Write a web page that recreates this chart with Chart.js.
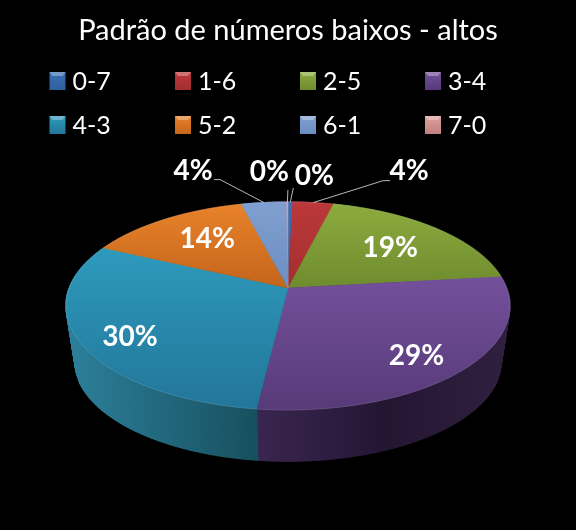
<!DOCTYPE html>
<html><head><meta charset="utf-8">
<style>html,body{margin:0;padding:0;background:#000}canvas{display:block}</style>
<script src="https://cdn.jsdelivr.net/npm/chart.js@4"></script>
</head><body><div style="width:576px;height:530px"><canvas id="c" width="576" height="530" style="width:576px;height:530px"></canvas></div>
<script>
const titleText = 'Padrão de números baixos - altos';
const categories = ['0-7','1-6','2-5','3-4','4-3','5-2','6-1','7-0'];
const shares = [0.4,3.5,19.3,28.7,30.1,14.0,3.9,0.1];
const topLight = ['#3A70B8','#BC383A','#8CAB3E','#74509C','#2E9ABC','#E8822A','#7F9FD0','#E0A09E'];
const topDark  = ['#2F5F9E','#A32E2F','#6E8C2E','#573A78','#22769A','#C4651B','#6C8EC0','#C08080'];
const sideStops = [['#244A7A','#1A3558'],['#7A2020','#561818'],['#556E24','#3C4F1A'],['#3A2650','#231633','#30203F'],['#2D809C','#17505F'],['#96501A','#6A3812'],['#54709A','#3C5070'],['#906060','#704848']];
const labelOffsets = [[24,-26],[96,-32],[7,-2],[25,20],[-33,17],[-1,-5],[-71,-32],[-18,-30]];
const labelRadius  = [1,1,.62,.62,.62,.62,1,1];
const leaderElbow  = [[3,-14],[70,-22],null,null,null,null,[-44,-23],[.5,-12]];

const CX=288, CY=288, A=218.6, B=100.9, P=0.173;
const LOW={cy:344,k:0.96};
function proj(theta,r,low){
  const u=r*Math.sin(theta), v=-r*Math.cos(theta), s=1/(1-P*v);
  const k=low?LOW.k:1, cy=low?LOW.cy:CY;
  return [CX+A*k*u*s, cy+B*k*v*s];
}
const pie3d={
  id:'pie3d',
  beforeDatasetsDraw(chart){
    const ctx=chart.ctx, arcs=chart.getDatasetMeta(0).data;
    const ang=arcs.map(a=>[a.startAngle+Math.PI/2,a.endAngle+Math.PI/2]);
    const step=Math.PI/360;
    ctx.save();
    // sides: opaque overlapping sweeps, so no seams show between steps
    arcs.forEach((a,i)=>{
      const [s,e]=ang[i], stops=sideStops[i];
      const pts=[]; for(let t=s;t<e;t+=step)pts.push(t); pts.push(e);
      const xs=pts.map(t=>proj(t,1)[0]);
      const g=ctx.createLinearGradient(Math.min(...xs),0,Math.max(...xs),0);
      stops.forEach((c,n)=>g.addColorStop(n/(stops.length-1),c));
      ctx.fillStyle=g; ctx.strokeStyle=g; ctx.lineWidth=1.2;
      for(let n=0;n<pts.length-1;n++){
        const p=[proj(pts[n],1),proj(pts[n+1],1),proj(pts[n+1],1,true),proj(pts[n],1,true)];
        ctx.beginPath(); p.forEach((q,m)=>m?ctx.lineTo(q[0],q[1]):ctx.moveTo(q[0],q[1])); ctx.closePath(); ctx.fill(); ctx.stroke();
      }
    });
    // tops
    arcs.forEach((a,i)=>{
      const [s,e]=ang[i];
      const pts=[]; for(let t=s;t<e;t+=step)pts.push(proj(t,1)); pts.push(proj(e,1));
      const ys=pts.map(q=>q[1]).concat(CY);
      const g=ctx.createLinearGradient(0,Math.min(...ys),0,Math.max(...ys));
      g.addColorStop(0,topLight[i]); g.addColorStop(1,topDark[i]);
      ctx.fillStyle=g; ctx.strokeStyle=g; ctx.lineWidth=.5;
      ctx.beginPath(); ctx.moveTo(CX,CY); pts.forEach(q=>ctx.lineTo(q[0],q[1])); ctx.closePath(); ctx.fill(); ctx.stroke();
      ctx.beginPath(); pts.forEach((q,m)=>m?ctx.lineTo(q[0],q[1]):ctx.moveTo(q[0],q[1]));
      ctx.strokeStyle='rgba(255,255,255,.12)'; ctx.lineWidth=1; ctx.stroke();
    });
    // labels + leaders
    const vals=chart.data.datasets[0].data, tot=vals.reduce((x,y)=>x+y,0);
    ctx.textAlign='center'; ctx.textBaseline='middle';
    ctx.font='bold 28px Lato';
    arcs.forEach((a,i)=>{
      const mid=(ang[i][0]+ang[i][1])/2, q=proj(mid,labelRadius[i]);
      const el=leaderElbow[i];
      if(el){
        ctx.strokeStyle='#b8b8b8'; ctx.lineWidth=1; ctx.beginPath(); ctx.moveTo(q[0],q[1]);
        const ex=q[0]+el[0], ey=q[1]+el[1]; ctx.lineTo(ex,ey);
        if(Math.abs(el[0])>10) ctx.lineTo(ex+(el[0]>0?7:-6),ey);
        ctx.stroke();
      }
    });
    ctx.fillStyle='#fff';
    arcs.forEach((a,i)=>{
      const mid=(ang[i][0]+ang[i][1])/2, q=proj(mid,labelRadius[i]);
      ctx.fillText(Math.round(vals[i]/tot*100)+'%',q[0]+labelOffsets[i][0],q[1]+labelOffsets[i][1]);
    });
    // legend
    const colX=[49.5,175,300,425], rowY=[81,125];
    ctx.textAlign='left'; ctx.font='25px Lato';
    chart.data.labels.forEach((lab,i)=>{
      const x=colX[i%4], y=rowY[Math.floor(i/4)], w=16, h=18, t=y-h/2;
      const g=ctx.createLinearGradient(0,t,0,t+h);
      g.addColorStop(0,topLight[i]); g.addColorStop(1,topDark[i]);
      ctx.fillStyle=g; ctx.fillRect(x,t,w,h);
      ctx.fillStyle='rgba(255,255,255,.3)';
      ctx.beginPath(); ctx.moveTo(x,t); ctx.lineTo(x+w,t); ctx.lineTo(x+w-3,t+4); ctx.lineTo(x+3,t+4); ctx.closePath(); ctx.fill();
      ctx.fillStyle='#fff'; ctx.fillText(lab,x+23,y+.5);
    });
    ctx.restore();
    return false;
  }
};
new Chart(document.getElementById('c'),{
  type:'pie',
  data:{labels:categories,datasets:[{data:shares,backgroundColor:topLight,borderWidth:0}]},
  plugins:[pie3d,{id:'bg',beforeDraw(c){c.ctx.save();c.ctx.fillStyle='#000';c.ctx.fillRect(0,0,c.width,c.height);c.ctx.restore();}}],
  options:{responsive:false,animation:false,devicePixelRatio:1,
    plugins:{legend:{display:false},tooltip:{enabled:false},
      title:{display:true,text:titleText,color:'#fff',font:{family:'Lato',size:29,weight:'normal'},padding:{top:13,bottom:10}}}}
});
</script></body></html>
